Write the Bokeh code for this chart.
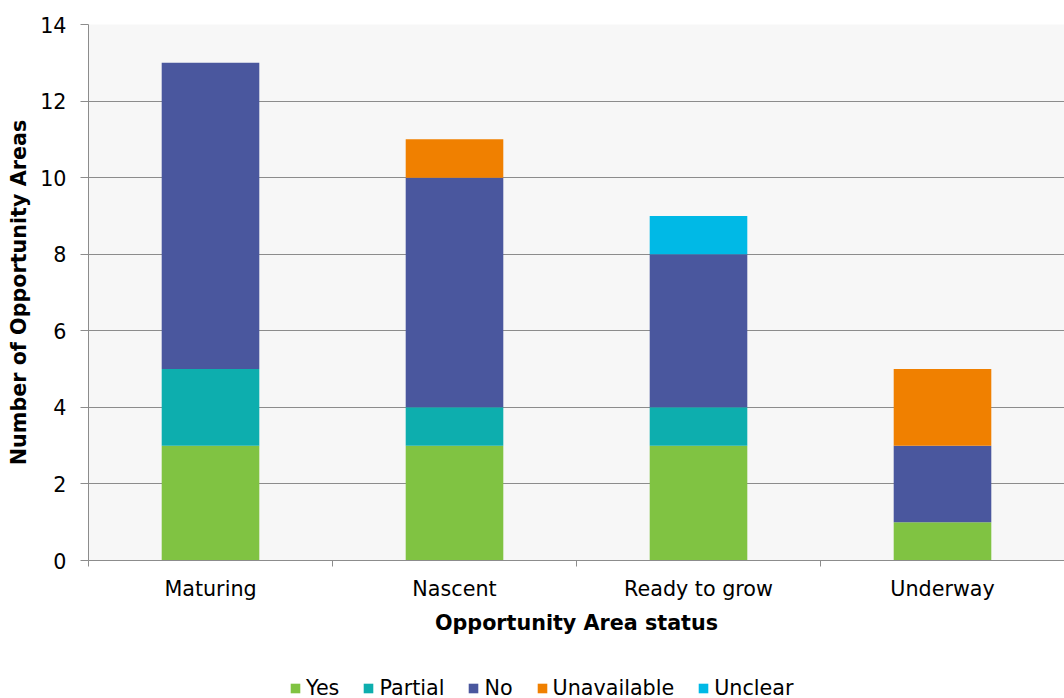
from bokeh.plotting import figure
from bokeh.layouts import column
from bokeh.models import ColumnDataSource, FixedTicker, Legend, LegendItem, Range1d
from bokeh.embed import file_html
from bokeh.resources import INLINE

categories = ["Maturing", "Nascent", "Ready to grow", "Underway"]
series = ["Yes", "Partial", "No", "Unavailable", "Unclear"]
yes = [3, 3, 3, 1]
partial = [2, 1, 1, 0]
no = [8, 6, 4, 2]
unavailable = [0, 1, 0, 2]
unclear = [0, 0, 1, 0]
colors = ["#80c342", "#0daeae", "#4a579e", "#f08000", "#00b9e6"]
y_ticks = [0, 2, 4, 6, 8, 10, 12, 14]

FONT = "DejaVu Sans"
GREY = "#8c8c8c"
FS = "20.7px"

xs = [i + 0.5 for i in range(len(categories))]
source = ColumnDataSource(dict(x=xs, Yes=yes, Partial=partial, No=no,
                               Unavailable=unavailable, Unclear=unclear))

p = figure(frame_width=976, frame_height=536, output_backend="svg", toolbar_location=None,
           x_range=Range1d(0, len(categories)), y_range=Range1d(0, 14),
           min_border_left=88, min_border_right=0, min_border_top=24,
           min_border_bottom=80, border_fill_color="white")
p.background_fill_color = "#f7f7f7"
p.outline_line_color = None

renderers = p.vbar_stack(series, x="x", width=0.4, source=source, color=colors,
                         line_color=None)

# axes
p.xaxis.ticker = FixedTicker(ticks=xs, minor_ticks=list(range(len(categories))))
p.xaxis.major_label_overrides = {x: c for x, c in zip(xs, categories)}
p.xaxis.major_tick_line_color = None
p.xaxis.major_tick_out = 0
p.xaxis.minor_tick_line_color = GREY
p.xaxis.minor_tick_out = 6
p.xaxis.minor_tick_in = 0
p.xaxis.axis_line_color = GREY
p.xaxis.major_label_standoff = 10
p.xaxis.axis_label = "Opportunity Area status"
p.xaxis.axis_label_standoff = 7

p.yaxis.ticker = FixedTicker(ticks=y_ticks)
p.yaxis.minor_tick_line_color = None
p.yaxis.major_tick_line_color = GREY
p.yaxis.major_tick_out = 8
p.yaxis.major_tick_in = 0
p.yaxis.axis_line_color = GREY
p.yaxis.major_label_standoff = 14
p.yaxis.axis_label = "Number of Opportunity Areas"
p.yaxis.axis_label_standoff = 6

for ax in (p.xaxis[0], p.yaxis[0]):
    ax.major_label_text_font = FONT
    ax.major_label_text_font_size = FS
    ax.major_label_text_color = "black"
    ax.axis_label_text_font = FONT
    ax.axis_label_text_font_size = FS
    ax.axis_label_text_font_style = "bold"
    ax.axis_label_text_color = "black"

p.xgrid.grid_line_color = None
p.ygrid.grid_line_color = GREY
p.ygrid.grid_line_width = 1

# legend strip: same series with zero-width bars far outside the visible range,
# so that only the legend shows
p2 = figure(width=1064, height=58, output_backend="svg", toolbar_location=None,
            x_range=Range1d(0, len(categories)), y_range=Range1d(1000, 1001),
            x_axis_location=None, y_axis_location=None, min_border=0,
            border_fill_color="white", background_fill_color="white")
p2.outline_line_color = None
p2.grid.grid_line_color = None
leg_renderers = p2.vbar_stack(series, x="x", width=0.0, source=source, color=colors,
                              line_color=None)

legend = Legend(items=[LegendItem(label=s, renderers=[r]) for s, r in zip(series, leg_renderers)],
                orientation="horizontal", location=(201, -2),
                label_text_font=FONT, label_text_font_size=FS, label_text_color="black",
                glyph_width=12, glyph_height=12, label_standoff=5, spacing=23,
                border_line_color=None, background_fill_alpha=0, padding=0,
                margin=0)
p2.add_layout(legend, "center")

open("out.html", "w").write(file_html(column(p, p2, spacing=0), INLINE))
